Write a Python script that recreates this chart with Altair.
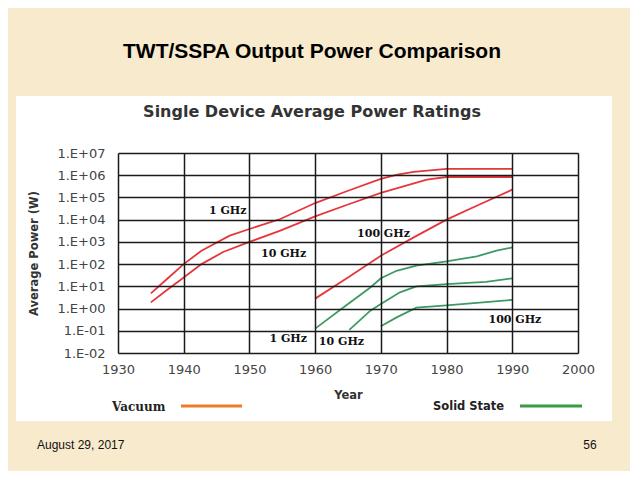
import altair as alt
import pandas as pd

# ---- data (power in W) ----
vac_1ghz_years = [1935, 1937.5, 1940, 1942.7, 1947, 1950, 1954.7, 1960, 1965, 1970, 1972.5, 1975, 1980, 1990]
vac_1ghz_power = [4.8, 22, 100, 400, 1900, 3800, 10700, 56000, 200000, 680000, 1070000, 1400000, 1950000, 1950000]

vac_10ghz_years = [1935, 1937.5, 1940, 1942.7, 1946, 1950, 1954.7, 1960, 1965, 1970, 1977, 1980, 1990]
vac_10ghz_power = [1.9, 7, 25, 100, 350, 1000, 3200, 14000, 48000, 160000, 630000, 830000, 830000]

vac_100ghz_years = [1960, 1965, 1970, 1975, 1980, 1985, 1990]
vac_100ghz_power = [2.8, 25, 240, 1600, 10000, 48000, 224000]

ss_1ghz_years = [1960, 1965, 1968.4, 1970, 1972.4, 1975.4, 1980, 1984.6, 1987.6, 1990]
ss_1ghz_power = [0.125, 1.6, 8.9, 23, 50, 85, 132, 224, 400, 560]

ss_10ghz_years = [1965.2, 1968.4, 1970, 1972.9, 1975.4, 1980, 1986, 1990]
ss_10ghz_power = [0.11, 0.8, 1.6, 5.4, 10, 12.6, 16, 23]

ss_100ghz_years = [1970, 1972.4, 1975.4, 1980, 1990]
ss_100ghz_power = [0.16, 0.4, 1.1, 1.4, 2.45]

x_ticks = [1930, 1940, 1950, 1960, 1970, 1980, 1990, 2000]
y_ticks = [1e-2, 1e-1, 1e0, 1e1, 1e2, 1e3, 1e4, 1e5, 1e6, 1e7]

# annotation labels (anchored in data coordinates)
label_texts = ["1 GHz", "10 GHz", "100 GHz", "1 GHz", "10 GHz", "100 GHz"]
label_years = [1946.7, 1955.2, 1970.4, 1955.9, 1964.0, 1990.4]
label_powers = [25000, 300, 2200, 0.042, 0.030, 0.30]

series_defs = [
    ("Vacuum", "1 GHz", vac_1ghz_years, vac_1ghz_power),
    ("Vacuum", "10 GHz", vac_10ghz_years, vac_10ghz_power),
    ("Vacuum", "100 GHz", vac_100ghz_years, vac_100ghz_power),
    ("Solid State", "1 GHz", ss_1ghz_years, ss_1ghz_power),
    ("Solid State", "10 GHz", ss_10ghz_years, ss_10ghz_power),
    ("Solid State", "100 GHz", ss_100ghz_years, ss_100ghz_power),
]
rows = []
for tech, band, ys, ps in series_defs:
    for yv, pv in zip(ys, ps):
        rows.append({"tech": tech, "series": tech + " " + band, "year": yv, "power": pv})
df = pd.DataFrame(rows)
labels_df = pd.DataFrame({"text": label_texts, "year": label_years, "power": label_powers})

RED = "#E4373C"
GREEN = "#3E9A62"

x_enc = alt.X(
    "year:Q",
    scale=alt.Scale(domain=[1930, 2000], nice=False, zero=False),
    axis=alt.Axis(
        values=x_ticks, format="d", title="Year", grid=True, ticks=False, domain=False,
        labelPadding=10, titleX=230, titleY=42, titleBaseline="middle", titleAlign="center",
        labelFlush=False, zindex=1,
    ),
)
y_enc = alt.Y(
    "power:Q",
    scale=alt.Scale(type="log", domain=[0.01, 1e7], nice=False),
    axis=alt.Axis(
        values=y_ticks,
        labelExpr="'1.E' + (datum.value >= 1 ? '+' : '-') + '0' + abs(round(log(datum.value) / LN10))",
        title="Average Power (W)", grid=True, ticks=False, domain=False,
        labelPadding=13, titleX=-84, titleY=100, titleAngle=270,
        titleBaseline="middle", titleAlign="center", labelFlush=False, zindex=1,
    ),
)

one = pd.DataFrame({"k": [0]})

panel = alt.Chart(one).mark_rect(color="white").encode(
    x=alt.value(-102), x2=alt.value(494), y=alt.value(-57), y2=alt.value(268)
)

lines = alt.Chart(df).mark_line(strokeWidth=1.8).encode(
    x=x_enc,
    y=y_enc,
    color=alt.Color("tech:N", scale=alt.Scale(domain=["Vacuum", "Solid State"], range=[RED, GREEN]), legend=None),
    detail="series:N",
)

labels = alt.Chart(labels_df).mark_text(
    font="DejaVu Serif", fontSize=11, fontWeight="bold", color="#111"
).encode(x=x_enc, y=y_enc, text="text:N")

leg_vac_text = alt.Chart(pd.DataFrame({"t": ["Vacuum"]})).mark_text(
    font="DejaVu Serif", fontSize=12, fontWeight="bold", color="#222", align="left", baseline="middle"
).encode(x=alt.value(-6), y=alt.value(254), text="t:N")
leg_vac_line = alt.Chart(one).mark_rule(color="#EC7A2C", strokeWidth=3).encode(
    x=alt.value(63), x2=alt.value(124), y=alt.value(253)
)
leg_ss_text = alt.Chart(pd.DataFrame({"t": ["Solid State"]})).mark_text(
    font="DejaVu Sans", fontSize=11.5, fontWeight="bold", color="#222", align="left", baseline="middle"
).encode(x=alt.value(315), y=alt.value(254), text="t:N")
leg_ss_line = alt.Chart(one).mark_rule(color="#3A9A48", strokeWidth=3).encode(
    x=alt.value(402), x2=alt.value(464), y=alt.value(253)
)

footer_date = alt.Chart(pd.DataFrame({"t": ["August 29, 2017"]})).mark_text(
    font="Liberation Sans", fontSize=12, color="#111", align="left", baseline="middle"
).encode(x=alt.value(-81), y=alt.value(292), text="t:N")
footer_page = alt.Chart(pd.DataFrame({"t": ["56"]})).mark_text(
    font="Liberation Sans", fontSize=12, color="#111", align="center", baseline="middle"
).encode(x=alt.value(472), y=alt.value(292), text="t:N")

chart = alt.layer(
    panel, lines, labels, leg_vac_text, leg_vac_line, leg_ss_text, leg_ss_line, footer_date, footer_page
).properties(
    width=460,
    height=200,
    title=alt.TitleParams(
        text="TWT/SSPA Output Power Comparison",
        subtitle="Single Device Average Power Ratings",
        anchor="middle", frame="group", dx=-36, offset=-24,
        font="Liberation Sans", fontSize=21, fontWeight="bold", color="black",
        subtitleFont="DejaVu Sans", subtitleFontSize=16, subtitleFontWeight="bold",
        subtitleColor="#333", subtitlePadding=42,
    ),
    autosize=alt.AutoSizeParams(type="none"),
    padding={"left": 110, "top": 145, "right": 52, "bottom": 118},
    background="#F8EBCD",
).configure_view(
    stroke="black", strokeWidth=1.5
).configure_axis(
    gridColor="#1a1a1a", gridWidth=1.5, gridOpacity=1,
    labelFont="DejaVu Sans", labelFontSize=13, labelColor="#444",
    titleFont="DejaVu Sans", titleFontSize=11.5, titleFontWeight="bold", titleColor="#333",
)

chart.save("out.html", embed_options={"renderer": "svg", "actions": False})
